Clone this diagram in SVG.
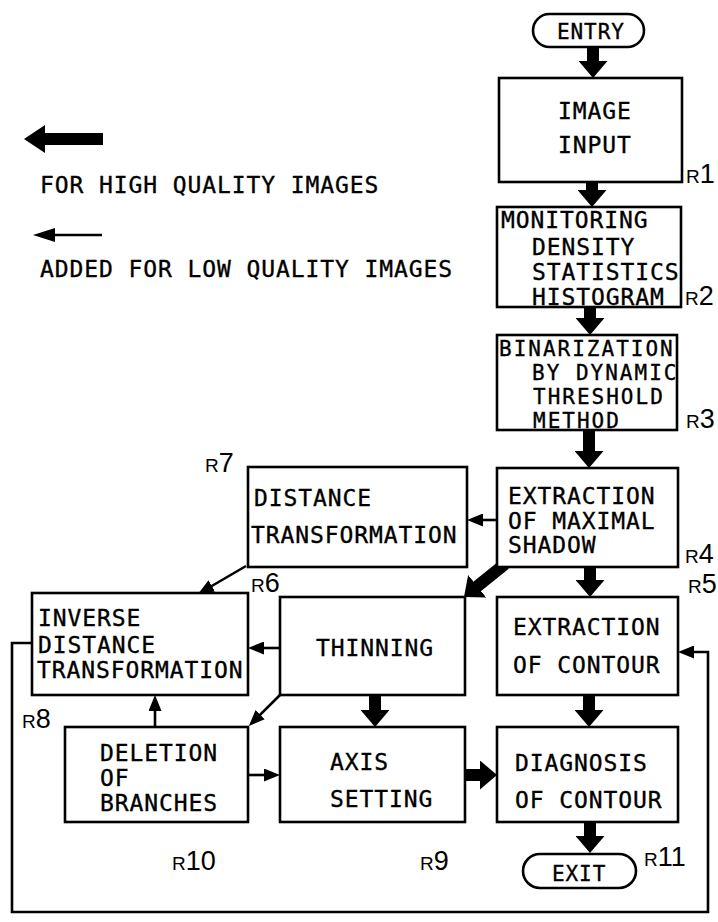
<svg xmlns="http://www.w3.org/2000/svg" width="718" height="922" viewBox="0 0 718 922">
<style>
.box{fill:#fff;stroke:#000;stroke-width:2.6}
.t{font-family:"DejaVu Sans Mono","Liberation Mono",monospace;font-size:23px;letter-spacing:0.9px;fill:#000;stroke:#000;stroke-width:0.35}
.s{font-size:21px;letter-spacing:2px}
.r{font-family:"Liberation Sans","DejaVu Sans",sans-serif;fill:#000}
.r .a{font-size:19px}
.r .n{font-size:27px}
.thick{stroke:#000;stroke-width:12;fill:none}
.thin{stroke:#000;stroke-width:2.6;fill:none}
</style>
<defs>
<marker id="hk" viewBox="0 0 17 29" refX="7" refY="14.5" markerWidth="17" markerHeight="29" markerUnits="userSpaceOnUse" orient="auto"><path d="M0,0 L17,14.5 L0,29 z" fill="#000"/></marker>
<marker id="hn" viewBox="0 0 16 13" refX="8" refY="6.5" markerWidth="16" markerHeight="13" markerUnits="userSpaceOnUse" orient="auto"><path d="M0,0 L16,6.5 L0,13 z" fill="#000"/></marker>
</defs>
<rect width="718" height="922" fill="#fff"/>

<g id="legend">
<path d="M24,139 L45,125 L45,133 L103,133 L103,145 L45,145 L45,153 z" fill="#000"/>
<text class="t" x="40" y="193">FOR HIGH QUALITY IMAGES</text>
<line class="thin" x1="102" y1="235" x2="50" y2="235" stroke-width="3"/>
<path d="M33,235 L55,228 L55,242 z" fill="#000"/>
<text class="t" x="40" y="277">ADDED FOR LOW QUALITY IMAGES</text>
</g>

<g id="connectors">
<line class="thick" x1="593" y1="47" x2="593" y2="68" marker-end="url(#hk)"/>
<line class="thick" x1="592" y1="182" x2="592" y2="197" marker-end="url(#hk)"/>
<line class="thick" x1="590" y1="307" x2="590" y2="325" marker-end="url(#hk)"/>
<line class="thick" x1="589" y1="430" x2="589" y2="458" marker-end="url(#hk)"/>
<line class="thick" x1="590" y1="567" x2="590" y2="587" marker-end="url(#hk)"/>
<line class="thick" x1="505" y1="564" x2="471.8" y2="590.7" marker-end="url(#hk)"/>
<line class="thick" x1="589" y1="695" x2="589" y2="717" marker-end="url(#hk)"/>
<line class="thick" x1="375" y1="695" x2="375" y2="717" marker-end="url(#hk)"/>
<line class="thick" x1="465" y1="775" x2="487" y2="775" marker-end="url(#hk)"/>
<line class="thick" x1="590" y1="822" x2="590" y2="843" marker-end="url(#hk)"/>
<line class="thin" x1="497" y1="520" x2="475" y2="520" marker-end="url(#hn)"/>
<line class="thin" x1="246" y1="566" x2="204.9" y2="590" marker-end="url(#hn)"/>
<line class="thin" x1="280" y1="648" x2="256" y2="648" marker-end="url(#hn)"/>
<line class="thin" x1="280" y1="695" x2="254.5" y2="720.3" marker-end="url(#hn)"/>
<line class="thin" x1="155" y1="727" x2="155" y2="703" marker-end="url(#hn)"/>
<line class="thin" x1="248" y1="775" x2="272" y2="775" marker-end="url(#hn)"/>
<polyline class="thin" points="32,643 12,643 12,912 708,912 708,652 686,652" marker-end="url(#hn)"/>
</g>

<g id="entry">
<rect class="box" x="533" y="14" width="111" height="33" rx="16.5"/>
<text class="t" x="557" y="39" style="font-size:21px">ENTRY</text>
</g>

<g id="r1">
<rect class="box" x="499" y="78" width="183" height="104"/>
<text class="t" x="558" y="119">IMAGE</text>
<text class="t" x="558" y="153">INPUT</text>
<text class="r" x="686" y="183"><tspan class="a">R</tspan><tspan class="n">1</tspan></text>
</g>

<g id="r2">
<rect class="box" x="497" y="207" width="184" height="100"/>
<text class="t" x="501" y="228">MONITORING</text>
<text class="t" x="532" y="255">DENSITY</text>
<text class="t" x="532" y="280">STATISTICS</text>
<text class="t" x="532" y="305">HISTOGRAM</text>
<text class="r" x="685" y="305"><tspan class="a">R</tspan><tspan class="n">2</tspan></text>
</g>

<g id="r3">
<rect class="box" x="497" y="335" width="180" height="95"/>
<text class="t s" x="499" y="356">BINARIZATION</text>
<text class="t s" x="532" y="380">BY DYNAMIC</text>
<text class="t s" x="533" y="404">THRESHOLD</text>
<text class="t s" x="533" y="428">METHOD</text>
<text class="r" x="686" y="428"><tspan class="a">R</tspan><tspan class="n">3</tspan></text>
</g>

<g id="r4">
<rect class="box" x="497" y="468" width="181" height="99"/>
<text class="t" x="508" y="504">EXTRACTION</text>
<text class="t" x="508" y="529">OF MAXIMAL</text>
<text class="t" x="508" y="553">SHADOW</text>
<text class="r" x="685" y="563"><tspan class="a">R</tspan><tspan class="n">4</tspan></text>
</g>

<g id="r7">
<rect class="box" x="248" y="467" width="219" height="100"/>
<text class="t" x="254" y="506">DISTANCE</text>
<text class="t" x="251" y="543">TRANSFORMATION</text>
<text class="r" x="205" y="472"><tspan class="a">R</tspan><tspan class="n">7</tspan></text>
</g>

<g id="r5">
<rect class="box" x="497" y="597" width="181" height="98"/>
<text class="t" x="513" y="635">EXTRACTION</text>
<text class="t" x="513" y="673">OF CONTOUR</text>
<text class="r" x="688" y="593"><tspan class="a">R</tspan><tspan class="n">5</tspan></text>
</g>

<g id="r6">
<rect class="box" x="280" y="597" width="185" height="98"/>
<text class="t" x="316" y="656">THINNING</text>
<text class="r" x="251" y="592"><tspan class="a">R</tspan><tspan class="n">6</tspan></text>
</g>

<g id="r8">
<rect class="box" x="32" y="593" width="216" height="102"/>
<text class="t" x="38" y="626">INVERSE</text>
<text class="t" x="38" y="653">DISTANCE</text>
<text class="t" x="37" y="678">TRANSFORMATION</text>
<text class="r" x="22" y="728"><tspan class="a">R</tspan><tspan class="n">8</tspan></text>
</g>

<g id="r10">
<rect class="box" x="65" y="727" width="183" height="95"/>
<text class="t" x="100" y="761">DELETION</text>
<text class="t" x="100" y="786">OF</text>
<text class="t" x="100" y="811">BRANCHES</text>
<text class="r" x="172" y="870"><tspan class="a">R</tspan><tspan class="n">10</tspan></text>
</g>

<g id="r9">
<rect class="box" x="280" y="727" width="185" height="95"/>
<text class="t" x="330" y="770">AXIS</text>
<text class="t" x="330" y="807">SETTING</text>
<text class="r" x="420" y="870"><tspan class="a">R</tspan><tspan class="n">9</tspan></text>
</g>

<g id="r11">
<rect class="box" x="497" y="727" width="181" height="95"/>
<text class="t" x="515" y="771">DIAGNOSIS</text>
<text class="t" x="515" y="808">OF CONTOUR</text>
<text class="r" x="644" y="866"><tspan class="a">R</tspan><tspan class="n">11</tspan></text>
</g>

<g id="exit">
<rect class="box" x="523" y="854" width="113" height="34" rx="17"/>
<text class="t" x="552" y="881" style="font-size:21px">EXIT</text>
</g>
</svg>
